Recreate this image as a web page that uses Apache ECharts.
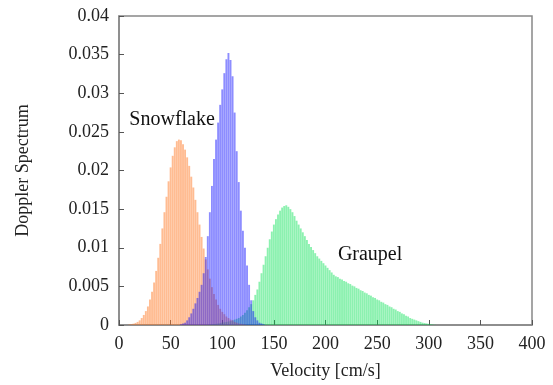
<!DOCTYPE html>
<html>
<head>
<meta charset="utf-8">
<script src="https://cdn.jsdelivr.net/npm/echarts@6/dist/echarts.min.js"></script>
<style>
html,body{margin:0;padding:0;background:#fff;}
#chart{width:553px;height:385px;}
</style>
</head>
<body>
<div id="chart"></div>
<script>
// Velocity bins [cm/s]
var velocity = [10,12,14,16,18,20,22,24,26,28,30,32,34,36,38,40,42,44,46,48,50,52,54,56,58,60,62,64,66,68,70,72,74,76,78,80,82,84,86,88,90,92,94,96,98,100,102,104,106,108,110,112,114,116,118,120,122,124,126,128,130,132,134,136,138,140,142,144,146,148,150,152,154,156,158,160,162,164,166,168,170,172,174,176,178,180,182,184,186,188,190,192,194,196,198,200,202,204,206,208,210,212,214,216,218,220,222,224,226,228,230,232,234,236,238,240,242,244,246,248,250,252,254,256,258,260,262,264,266,268,270,272,274,276,278,280,282,284,286,288,290,292,294,296,298,300,302,304,306];

// Snowflake spectrum (orange), from v=10
var snowflake = [0.00006,0.0001,0.00017,0.00027,0.0004,0.0006,0.0009,0.0013,0.0018,0.0024,0.0033,0.0043,0.0055,0.0070,0.0087,0.0105,0.0125,0.0146,0.0166,0.0186,0.0204,0.0219,0.0230,0.0238,0.0240,
0.0239,0.0234,0.0227,0.0217,0.0206,0.0192,0.0178,0.0162,0.0146,0.0130,0.0114,0.0099,0.0085,0.0072,0.0060,0.0049,0.0040,0.0033,0.0026,0.0021,0.0017,0.0014,0.0011,0.0009,0.0007,0.0006,0.0004,0.0003,0.0002,0.00015,0.0001,0.00006];

// Middle spectrum (blue), from v=10
var middle = [0,0,0,0,0,0,0,0,0,0,0,0,0,0,0,0,0,0,0,0,0,0,0,0,0,
0.0001,0.0002,0.0003,0.0006,0.0010,0.0015,0.0021,0.0028,0.0035,0.0043,0.0052,0.0067,0.0088,0.0115,0.0146,0.0180,0.0215,0.0240,0.0262,0.0285,0.0305,0.0326,0.0344,0.0352,0.0343,0.0322,0.0275,0.0225,0.0185,0.0148,0.0122,0.0100,0.0077,0.0052,0.0032,0.0018,0.0010,0.0006,0.0003,0.0002,0.0001];

// Graupel spectrum (green), from v=10
var graupel = [0,0,0,0,0,0,0,0,0,0,0,0,0,0,0,0,0,0,0,0,0,0,0,0,0,0,0,0,0,0,0,0,0,0,0,0,0,0,
0.00003,0.00005,0.0001,0.00012,0.00015,0.0002,0.00024,0.0003,0.00035,0.0004,0.00045,0.0005,0.0006,0.0007,0.0008,0.0009,0.0011,0.0013,0.0016,0.0019,0.0023,0.0027,0.0032,0.0039,0.0046,0.0056,0.0067,0.0078,0.0089,0.0100,0.0111,0.0121,0.0130,0.0137,0.0143,0.0148,0.0152,0.0154,0.0155,0.0153,0.0150,0.0146,0.0141,0.0135,0.0130,0.0125,0.0120,0.0115,0.0110,0.0105,0.0101,0.0097,0.0093,0.0089,0.0086,0.0083,0.0080,0.0077,0.0074,0.0071,0.0068,0.0065,0.0063,0.0062,0.0060,0.0059,0.0057,0.0056,0.0054,0.0053,0.0051,0.0050,0.0048,0.0047,0.0045,0.0044,0.0042,0.0041,0.0039,0.0038,0.0036,0.0035,0.0033,0.0032,0.0030,0.0029,0.0027,0.0026,0.0024,0.0023,0.0021,0.0020,0.0018,0.0017,0.0015,0.0014,0.0012,0.0011,0.0009,0.0008,0.0007,0.0006,0.0005,0.0004,0.0003,0.00025,0.0002,0.00015,0.0001,0.00006,0.00003];

var xTicks = {min:0, max:400, interval:50};
var yTicks = {min:0, max:0.04, interval:0.005};

function pairs(vals){
  var out = [];
  for (var i = 0; i < vals.length; i++) { if (vals[i] > 0) out.push([velocity[i], vals[i]]); }
  return out;
}

var FONT = 'Liberation Serif';
var chart = echarts.init(document.getElementById('chart'), null, {renderer:'canvas'});
var axisCommon = {
  axisLine:{show:true, lineStyle:{color:'#888', width:1.5}},
  axisTick:{show:true, inside:true, length:5, lineStyle:{color:'#555', width:1}},
  axisLabel:{fontFamily:FONT, fontSize:18, color:'#222', margin:10},
  splitLine:{show:false},
  nameLocation:'middle',
  nameTextStyle:{fontFamily:FONT, fontSize:18, color:'#222'}
};
var barCommon = {type:'bar', barWidth:1.9, barGap:'-100%', silent:true};
chart.setOption({
  animation:false,
  grid:{left:119, right:21, top:16, bottom:59, show:true, borderColor:'#888', borderWidth:1.5, backgroundColor:'transparent'},
  xAxis:Object.assign({type:'value', min:xTicks.min, max:xTicks.max, interval:xTicks.interval, name:'Velocity [cm/s]', nameGap:37}, axisCommon),
  yAxis:Object.assign({type:'value', min:yTicks.min, max:yTicks.max, interval:yTicks.interval, name:'Doppler Spectrum', nameGap:87}, axisCommon),
  series:[
    Object.assign({name:'Graupel', data:pairs(graupel), itemStyle:{color:'#00e050', opacity:0.45},
      markPoint:{symbol:'circle', symbolSize:0, silent:true, data:[{coord:[212, 0.0091], value:0,
        label:{show:true, formatter:'Graupel', position:[0,0], align:'left', verticalAlign:'middle', fontFamily:FONT, fontSize:20, color:'#111'}}]}}, barCommon),
    Object.assign({name:'Snowflake', data:pairs(snowflake), itemStyle:{color:'#ff7a25', opacity:0.5},
      markPoint:{symbol:'circle', symbolSize:0, silent:true, data:[{coord:[10, 0.0266], value:0,
        label:{show:true, formatter:'Snowflake', position:[0,0], align:'left', verticalAlign:'middle', fontFamily:FONT, fontSize:20, color:'#111'}}]}}, barCommon),
    Object.assign({name:'Middle', data:pairs(middle), itemStyle:{color:'#1010ff', opacity:0.48}}, barCommon)
  ]
});
</script>
</body>
</html>
